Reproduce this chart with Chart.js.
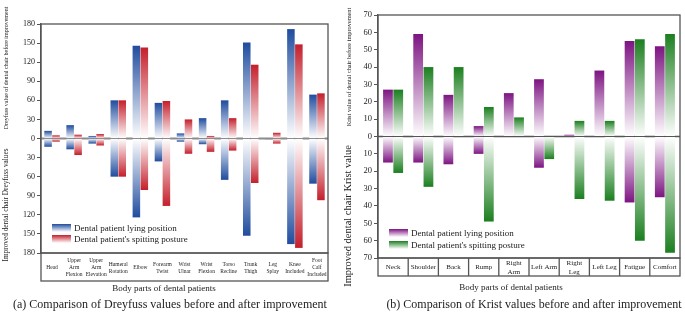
<!DOCTYPE html>
<html>
<head>
<meta charset="utf-8">
<script src="https://cdn.jsdelivr.net/npm/chart.js@4"></script>
<style>
  html, body { margin: 0; padding: 0; background: #fff; }
  #wrap { position: relative; width: 685px; height: 317px; font-family: "Liberation Serif", serif; color: #222; }
  .box { position: absolute; top: 0; height: 300px; }
  .ytitle { position: absolute; white-space: nowrap; transform: translate(-50%, -50%) rotate(-90deg); line-height: 1; }
  .caption { position: absolute; white-space: nowrap; transform: translate(-50%, -50%); font-size: 12px; line-height: 1; }
  .legend { position: absolute; font-size: 9px; }
  .legend .row { display: flex; align-items: center; }
  .legend .sw { width: 19px; height: 8px; margin-right: 3px; }
</style>
</head>
<body>
<div id="wrap">
  <div class="box" style="left:0;width:342px"><canvas id="chartA"></canvas></div>
  <div class="box" style="left:342px;width:343px"><canvas id="chartB"></canvas></div>

  <div class="ytitle" style="left:6px;top:68px;font-size:6px">Dreyfuss value of dental chair before improvement</div>
  <div class="ytitle" style="left:6px;top:205px;font-size:7.3px">Improved dental chair Dreyfuss values</div>
  <div class="ytitle" style="left:349px;top:67px;font-size:6.3px">Krist value of dental chair before improvement</div>
  <div class="ytitle" style="left:348px;top:216px;font-size:10.5px">Improved dental chair Krist value</div>

  <div class="legend" id="legendA" style="left:52px;top:223px"></div>
  <div class="legend" id="legendB" style="left:389px;top:227px"></div>

  <div class="caption" style="left:170px;top:304px">(a) Comparison of Dreyfuss values before and after improvement</div>
  <div class="caption" style="left:534px;top:304px">(b) Comparison of Krist values before and after improvement</div>
</div>
<script>
// Dreyfuss (a)
const dreyParts = ['Head', ['Upper', 'Arm', 'Flexion'], ['Upper', 'Arm', 'Elevation'], ['Humeral', 'Rotation'], 'Elbow',
  ['Forearm', 'Twist'], ['Wrist', 'Ulnar'], ['Wrist', 'Flexion'], ['Torso', 'Recline'], ['Trunk', 'Thigh'],
  ['Leg', 'Splay'], ['Knee', 'Included'], ['Foot', 'Calf', 'Included']];
const dreyLyingBefore = [12, 21, 4, 60, 146, 56, 8, 32, 60, 151, 0, 172, 69];
const dreySpitBefore = [5, 6, 7, 60, 143, 59, 30, 4, 32, 116, 9, 148, 71];
const dreyLyingAfter = [-13, -17, -8, -60, -124, -36, -5, -9, -65, -153, -1, -166, -71];
const dreySpitAfter = [-5, -26, -11, -60, -81, -106, -24, -21, -19, -70, -8, -172, -97];
const dreyTicks = [-180, -150, -120, -90, -60, -30, 0, 30, 60, 90, 120, 150, 180];

// Krist (b)
const kristParts = ['Neck', 'Shoulder', 'Back', 'Rump', ['Right', 'Arm'], 'Left Arm', ['Right', 'Leg'], 'Left Leg', 'Fatigue', 'Comfort'];
const kristLyingBefore = [27, 59, 24, 6, 25, 33, 1, 38, 55, 52];
const kristSpitBefore = [27, 40, 40, 17, 11, 0, 9, 9, 56, 59];
const kristLyingAfter = [-15, -15, -16, -10, 0, -18, 0, 0, -38, -35];
const kristSpitAfter = [-21, -29, 0, -49, 0, -13, -36, -37, -60, -67];
const kristTicks = [-70, -60, -50, -40, -30, -20, -10, 0, 10, 20, 30, 40, 50, 60, 70];

const legendNames = ['Dental patient lying position', "Dental patient's spitting posture"];
const serif = 'Liberation Serif';

// bar fill fades from the colour at the bar end to white at zero
function fade(color) {
  return (c) => {
    const chart = c.chart;
    if (!chart.chartArea || c.type !== 'data') return color;
    const y = chart.scales.y;
    const y0 = y.getPixelForValue(0);
    const y1 = y.getPixelForValue(c.raw);
    if (Math.abs(y1 - y0) < 0.5) return color;
    const g = chart.ctx.createLinearGradient(0, y0, 0, y1);
    g.addColorStop(0, '#ffffff');
    g.addColorStop(1, color);
    return g;
  };
}

// frame, zero line and the label box under the plot
const framePlugin = {
  id: 'frame',
  beforeDatasetsDraw(chart, args, o) {
    const {ctx, chartArea: a} = chart;
    const z = chart.scales.y.getPixelForValue(0);
    ctx.save();
    ctx.strokeStyle = o.zeroColor;
    ctx.lineWidth = o.zeroWidth;
    ctx.beginPath();
    ctx.moveTo(a.left, z);
    ctx.lineTo(a.right, z);
    ctx.stroke();
    ctx.restore();
  },
  afterDraw(chart, args, o) {
    const {ctx, chartArea: a} = chart;
    const x = chart.scales.x;
    ctx.save();
    ctx.strokeStyle = o.color;
    ctx.lineWidth = o.width;
    ctx.strokeRect(a.left, a.top, a.right - a.left, a.bottom - a.top);
    ctx.strokeRect(a.left, a.bottom, a.right - a.left, o.boxHeight);
    if (o.separators) {
      ctx.beginPath();
      for (let i = 1; i < x.ticks.length; i++) {
        const px = (x.getPixelForTick(i - 1) + x.getPixelForTick(i)) / 2;
        ctx.moveTo(px, a.bottom);
        ctx.lineTo(px, a.bottom + o.boxHeight);
      }
      ctx.stroke();
    }
    ctx.restore();
  }
};

function makeChart(id, cfg) {
  const datasets = [
    {label: legendNames[0], data: cfg.lyingBefore, stack: 'lying', backgroundColor: fade(cfg.colors[0])},
    {label: legendNames[1], data: cfg.spitBefore, stack: 'spit', backgroundColor: fade(cfg.colors[1])},
    {label: legendNames[0], data: cfg.lyingAfter, stack: 'lying', backgroundColor: fade(cfg.colors[0])},
    {label: legendNames[1], data: cfg.spitAfter, stack: 'spit', backgroundColor: fade(cfg.colors[1])}
  ];
  return new Chart(document.getElementById(id), {
    type: 'bar',
    data: {labels: cfg.labels, datasets: datasets},
    plugins: [framePlugin],
    options: {
      responsive: true,
      maintainAspectRatio: false,
      animation: false,
      layout: {padding: cfg.padding},
      datasets: {bar: {categoryPercentage: cfg.catPct, barPercentage: 0.95, borderWidth: 0}},
      scales: {
        x: {
          stacked: true,
          grid: {display: false, drawTicks: false, tickLength: 0},
          border: {display: false},
          ticks: {
            autoSkip: false, maxRotation: 0, minRotation: 0, crossAlign: 'center',
            padding: cfg.labelPad, color: '#222',
            font: {family: serif, size: cfg.labelSize, lineHeight: 1.25}
          },
          afterFit: (s) => { s.height = cfg.boxHeight; }
        },
        y: {
          stacked: true,
          min: cfg.ticks[0],
          max: cfg.ticks[cfg.ticks.length - 1],
          afterBuildTicks: (s) => { s.ticks = cfg.ticks.map(v => ({value: v})); },
          grid: {drawOnChartArea: false, drawTicks: true, tickLength: 4, color: '#555', lineWidth: 1},
          border: {display: true, color: '#555', width: 1.3},
          ticks: {
            padding: 2, color: '#222',
            font: {family: serif, size: cfg.tickSize},
            callback: (v) => Math.abs(v)
          },
          afterFit: (s) => { s.width = cfg.yWidth; }
        }
      },
      plugins: {
        legend: {display: false},
        tooltip: {enabled: false},
        title: {
          display: true, position: 'bottom', text: 'Body parts of dental patients', color: '#222',
          font: {family: serif, size: 9, weight: 'normal', lineHeight: 1.2},
          padding: {top: cfg.titlePad, bottom: 0}
        },
        frame: {color: '#555', width: 1.3, zeroColor: cfg.zeroColor, zeroWidth: cfg.zeroWidth,
          boxHeight: cfg.boxHeight, separators: cfg.separators}
      }
    }
  });
}

function makeLegend(id, colors, rowH) {
  const el = document.getElementById(id);
  legendNames.forEach((name, i) => {
    const row = document.createElement('div');
    row.className = 'row';
    row.style.height = rowH + 'px';
    const sw = document.createElement('div');
    sw.className = 'sw';
    sw.style.background = 'linear-gradient(to bottom, ' + colors[i] + ', #ffffff)';
    const t = document.createElement('span');
    t.textContent = name;
    row.appendChild(sw);
    row.appendChild(t);
    el.appendChild(row);
  });
}

const colorsA = ['#1f4c9e', '#c41f2b'];
const colorsB = ['#7d1482', '#1b7f1f'];

makeChart('chartA', {
  labels: dreyParts, lyingBefore: dreyLyingBefore, spitBefore: dreySpitBefore,
  lyingAfter: dreyLyingAfter, spitAfter: dreySpitAfter, ticks: dreyTicks, colors: colorsA,
  padding: {top: 24, right: 14, bottom: 6.2, left: 0}, yWidth: 41, boxHeight: 28, titlePad: 2,
  labelPad: 8, labelSize: 5.5, tickSize: 8, catPct: 0.72, separators: false,
  zeroColor: '#8c8c8c', zeroWidth: 2
});

makeChart('chartB', {
  labels: kristParts, lyingBefore: kristLyingBefore, spitBefore: kristSpitBefore,
  lyingAfter: kristLyingAfter, spitAfter: kristSpitAfter, ticks: kristTicks, colors: colorsB,
  padding: {top: 15, right: 5, bottom: 6.6, left: 0}, yWidth: 36, boxHeight: 18, titlePad: 6.6,
  labelPad: 5, labelSize: 7, tickSize: 8.5, catPct: 0.68, separators: true,
  zeroColor: '#555', zeroWidth: 1.5
});

makeLegend('legendA', colorsA, 10.4);
makeLegend('legendB', colorsB, 11.7);
</script>
</body>
</html>
